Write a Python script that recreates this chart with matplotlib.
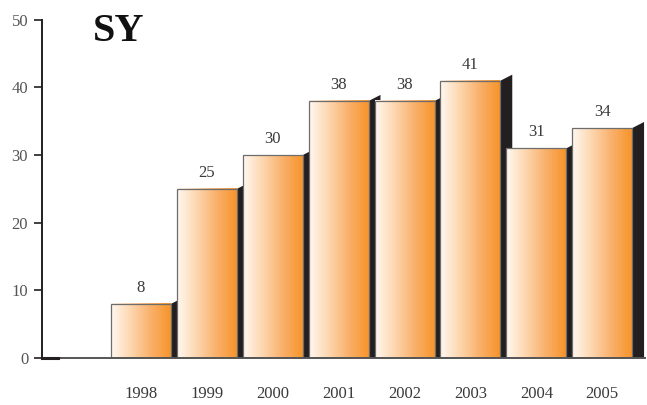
import matplotlib
matplotlib.use("Agg")
import matplotlib.pyplot as plt
import numpy as np
from matplotlib.colors import LinearSegmentedColormap
from matplotlib.patches import Polygon, Rectangle

years = ["1998", "1999", "2000", "2001", "2002", "2003", "2004", "2005"]
counts = [8, 25, 30, 38, 38, 41, 31, 34]
yticks = [0, 10, 20, 30, 40, 50]
title = "SY"

serif = ["Liberation Serif", "DejaVu Serif"]
plt.rcParams["font.family"] = serif

fig = plt.figure(figsize=(6.47, 4.05), dpi=100)
ax = fig.add_axes([0.065, 0.116, 0.932, 0.835])

cmap = LinearSegmentedColormap.from_list("peach", ["#fff8f1", "#fdd6ae", "#f9b06a", "#f7942a"])
grad = np.linspace(0, 1, 256).reshape(1, -1)

bar_w = 0.91
depth = 0.18
rise = 0.9
positions = np.arange(1, len(years) + 1)

for i, (x, v) in enumerate(zip(positions, counts)):
    left, right = x - bar_w / 2, x + bar_w / 2
    z = 2 + i * 3
    side = Polygon([(right, 0), (right, v), (right + depth, v + rise), (right + depth, 0)],
                   closed=True, facecolor="#231f20", edgecolor="none", zorder=z)
    ax.add_patch(side)
    ax.imshow(grad, cmap=cmap, extent=(left, right, 0, v), aspect="auto",
              interpolation="bilinear", zorder=z + 1)
    ax.add_patch(Rectangle((left, 0), bar_w, v, facecolor="none",
                           edgecolor="#6d6d6d", linewidth=0.9, zorder=z + 2))
    ax.text(x, v + 1.2, str(v), ha="center", va="bottom", fontsize=12,
            color="#3a3a3a", zorder=40)

ax.set_xlim(-0.5, 8.65)
ax.set_ylim(0, 50)

ax.set_yticks(yticks)
ax.set_yticklabels([str(t) for t in yticks], fontsize=12, color="#555555")
ax.tick_params(axis="y", length=6, width=1.2, color="#231f20", pad=4)

ax.set_xticks(positions)
ax.set_xticklabels(years, fontsize=12, color="#3a3a3a")
ax.tick_params(axis="x", length=0, pad=20)

for s in ("top", "right"):
    ax.spines[s].set_visible(False)
ax.spines["left"].set_color("#231f20")
ax.spines["left"].set_linewidth(1.4)
ax.spines["bottom"].set_color("#555555")
ax.spines["bottom"].set_linewidth(1.4)
ax.spines["bottom"].set_zorder(50)
ax.plot([-0.5, -0.26], [0, 0], color="#231f20", linewidth=2.2, clip_on=False, zorder=51)

ax.text(0.085, 1.02, title, transform=ax.transAxes, fontsize=29, fontweight="bold",
        ha="left", va="top", color="#111111")

fig.savefig("out.png", dpi=100)
